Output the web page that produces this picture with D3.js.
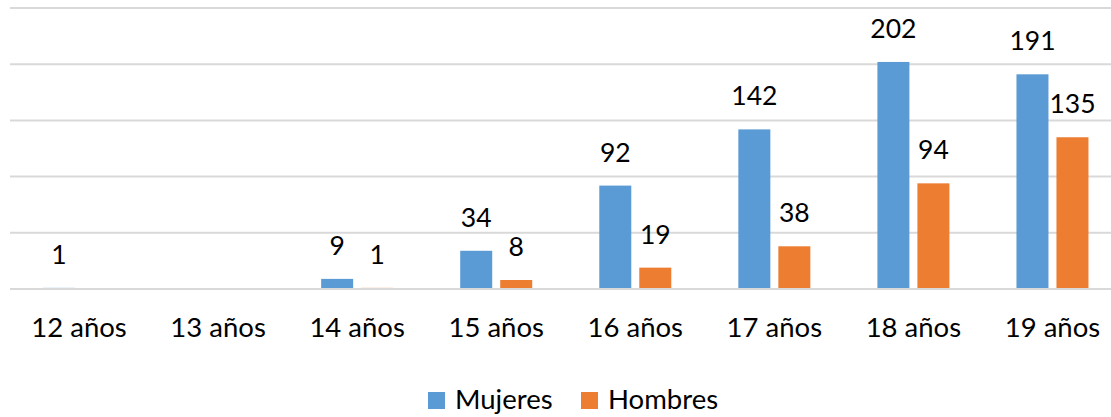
<!DOCTYPE html>
<html>
<head>
<meta charset="utf-8">
<script src="https://cdn.jsdelivr.net/npm/d3@7"></script>
<style>
  body { margin: 0; background: #fff; }
  svg { display: block; font-family: Lato, "Open Sans", sans-serif; }
</style>
</head>
<body>
<svg id="chart" width="1111" height="417"></svg>
<script>
var categories = ["12 años", "13 años", "14 años", "15 años", "16 años", "17 años", "18 años", "19 años"];
var mujeres = [1, 0, 9, 34, 92, 142, 202, 191];
var hombres = [0, 0, 1, 8, 19, 38, 94, 135];
var seriesNames = ["Mujeres", "Hombres"];
var gridTicks = [0, 50, 100, 150, 200, 250];

var colors = { "Mujeres": "#5B9BD5", "Hombres": "#ED7D31" };

var svg = d3.select("#chart");

var x = d3.scaleBand()
  .domain(categories)
  .range([9.5, 1122])
  .paddingInner(0)
  .paddingOuter(0);

var y = d3.scaleLinear()
  .domain([0, 250])
  .range([289, 8]);

// gridlines (behind the bars)
svg.append("g")
  .attr("class", "grid")
  .selectAll("line")
  .data(gridTicks.slice(1))
  .enter()
  .append("line")
  .attr("x1", 10)
  .attr("x2", 1111)
  .attr("y1", function(d) { return y(d); })
  .attr("y2", function(d) { return y(d); })
  .attr("stroke", "#D9D9D9")
  .attr("stroke-width", 2);

var rows = categories.map(function(c, i) {
  return { cat: c, values: [
    { name: "Mujeres", value: mujeres[i] },
    { name: "Hombres", value: hombres[i] }
  ]};
});

var barW = 32, gap = 8;
function barX(cat, j) {
  var center = x(cat) + x.bandwidth() / 2;
  return center - gap / 2 - barW + j * (barW + gap);
}

var groups = svg.append("g")
  .selectAll("g")
  .data(rows)
  .enter()
  .append("g");

groups.selectAll("rect")
  .data(function(d) { return d.values.map(function(v, j) { return { cat: d.cat, j: j, name: v.name, value: v.value }; }); })
  .enter()
  .filter(function(d) { return d.value > 0; })
  .append("rect")
  .attr("x", function(d) { return barX(d.cat, d.j); })
  .attr("width", barW)
  .attr("y", function(d) { return y(d.value); })
  .attr("height", function(d) { return y(0) - y(d.value); })
  .attr("fill", function(d) { return colors[d.name]; });

groups.selectAll("text")
  .data(function(d) { return d.values.map(function(v, j) { return { cat: d.cat, j: j, value: v.value }; }); })
  .enter()
  .filter(function(d) { return d.value > 0; })
  .append("text")
  .attr("x", function(d) { return barX(d.cat, d.j) + barW / 2; })
  .attr("y", function(d) { return y(d.value) - 24; })
  .attr("text-anchor", "middle")
  .attr("font-size", 26.5)
  .attr("fill", "#000")
  .text(function(d) { return d.value; });

// baseline drawn over the bars
svg.append("line")
  .attr("x1", 10)
  .attr("x2", 1111)
  .attr("y1", y(0))
  .attr("y2", y(0))
  .attr("stroke", "#D9D9D9")
  .attr("stroke-width", 2);

// category labels
svg.append("g")
  .selectAll("text")
  .data(categories)
  .enter()
  .append("text")
  .attr("x", function(d) { return x(d) + x.bandwidth() / 2; })
  .attr("y", 337)
  .attr("text-anchor", "middle")
  .attr("font-size", 27.5)
  .attr("fill", "#000")
  .text(function(d) { return d; });

// legend
var legendX = [428, 581];
var legend = svg.append("g")
  .selectAll("g")
  .data(seriesNames)
  .enter()
  .append("g")
  .attr("transform", function(d, i) { return "translate(" + legendX[i] + ",392)"; });

legend.append("rect")
  .attr("width", 17)
  .attr("height", 17)
  .attr("fill", function(d) { return colors[d]; });

legend.append("text")
  .attr("x", 27)
  .attr("y", 17)
  .attr("font-size", 27.5)
  .attr("fill", "#000")
  .text(function(d) { return d; });
</script>
</body>
</html>
